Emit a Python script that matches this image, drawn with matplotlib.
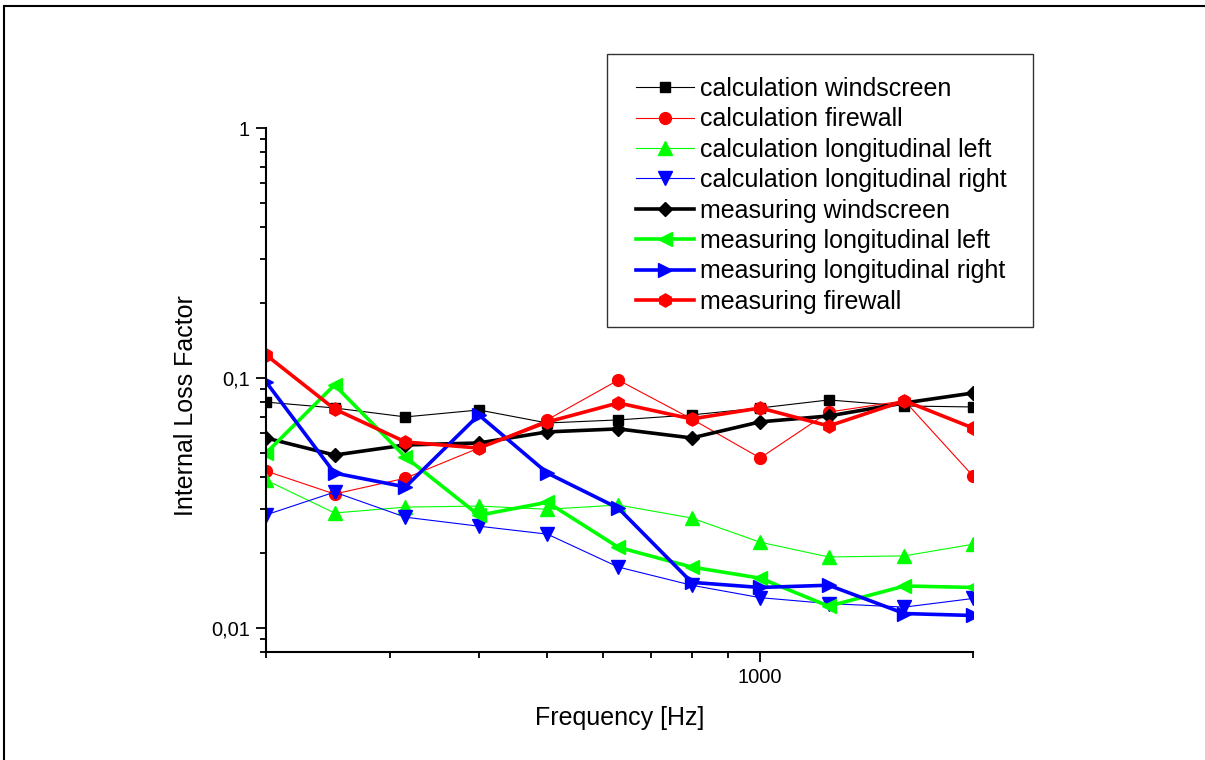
#!/usr/bin/env python3

import matplotlib
matplotlib.use('Agg')
from matplotlib import pyplot as plt
from matplotlib import ticker
from matplotlib.patches import Rectangle

plt.rcParams['font.family'] = ['Liberation Sans', 'DejaVu Sans']

# third-octave band centres [Hz]
freq = [200, 250, 315, 400, 500, 630, 800, 1000, 1250, 1600, 2000]

# calculated loss factors
calc_windscreen = [0.080, 0.0758, 0.0698, 0.0744, 0.066, 0.0679, 0.0711, 0.0758, 0.0816, 0.0772, 0.0765]
calc_firewall = [0.0424, 0.0343, 0.0397, 0.0524, 0.068, 0.098, 0.0685, 0.0478, 0.073, 0.081, 0.0405]
calc_long_left = [0.039, 0.0288, 0.0304, 0.0307, 0.0298, 0.031, 0.0275, 0.022, 0.0192, 0.0194, 0.0216]
calc_long_right = [0.0283, 0.0349, 0.0277, 0.0255, 0.0237, 0.0175, 0.0148, 0.0132, 0.0125, 0.0121, 0.0131]

# measured loss factors
meas_windscreen = [0.0575, 0.0491, 0.0539, 0.0549, 0.0608, 0.0625, 0.0575, 0.0667, 0.0704, 0.0794, 0.087]
meas_long_left = [0.050, 0.0937, 0.0482, 0.0282, 0.0318, 0.021, 0.0175, 0.0158, 0.0122, 0.0147, 0.0145]
meas_long_right = [0.0964, 0.0416, 0.0366, 0.0711, 0.0416, 0.0301, 0.0152, 0.0145, 0.0148, 0.0114, 0.0112]
meas_firewall = [0.1236, 0.0751, 0.0554, 0.0524, 0.0666, 0.0794, 0.0685, 0.0758, 0.0642, 0.081, 0.063]

W, H = 1205, 760
fig = plt.figure(figsize=(W / 100, H / 100), dpi=100)
ax = fig.add_axes([266 / W, 1 - 652 / H, (973 - 266) / W, (652 - 128) / H])

thin = dict(linewidth=0.8)
thick = dict(linewidth=2.6)

ax.plot(freq, calc_windscreen, color='black', marker='s', markersize=7.5,
        label='calculation windscreen', **thin)
ax.plot(freq, calc_firewall, color='red', marker='o', markersize=8.5,
        label='calculation firewall', **thin)
ax.plot(freq, calc_long_left, color='#00ff00', marker='^', markersize=9.5,
        label='calculation longitudinal left', **thin)
ax.plot(freq, calc_long_right, color='blue', marker='v', markersize=9.5,
        label='calculation longitudinal right', **thin)
ax.plot(freq, meas_windscreen, color='black', marker='D', markersize=7.5,
        label='measuring windscreen', **thick)
ax.plot(freq, meas_long_left, color='#00ff00', marker='<', markersize=9.5,
        label='measuring longitudinal left', **thick)
ax.plot(freq, meas_long_right, color='blue', marker='>', markersize=9.5,
        label='measuring longitudinal right', **thick)
ax.plot(freq, meas_firewall, color='red', marker='h', markersize=9.5,
        label='measuring firewall', **thick)

ax.set_xscale('log')
ax.set_yscale('log')
ax.set_xlim(200, 2000)
ax.set_ylim(0.008, 1)

ax.xaxis.set_major_locator(ticker.FixedLocator([1000]))
ax.xaxis.set_major_formatter(ticker.FixedFormatter(['1000']))
ax.xaxis.set_minor_locator(ticker.LogLocator(base=10, subs=range(2, 10)))
ax.xaxis.set_minor_formatter(ticker.NullFormatter())

ax.yaxis.set_major_locator(ticker.FixedLocator([0.01, 0.1, 1]))
ax.yaxis.set_major_formatter(ticker.FixedFormatter(['0,01', '0,1', '1']))
ax.yaxis.set_minor_locator(ticker.LogLocator(base=10, subs=range(2, 10)))
ax.yaxis.set_minor_formatter(ticker.NullFormatter())

for side in ['top', 'right']:
    ax.spines[side].set_visible(False)
for side in ['left', 'bottom']:
    ax.spines[side].set_linewidth(1.5)

ax.tick_params(which='major', direction='out', length=7.5, width=1.3, labelsize=14.5, pad=4)
ax.tick_params(which='minor', direction='out', length=4.5, width=1.3)

ax.set_xlabel('Frequency [Hz]', fontsize=18, labelpad=14)
ax.set_ylabel('Internal Loss Factor', fontsize=18)
ax.yaxis.set_label_coords(-0.096, 0.471)

# legend entries without frame, box drawn separately
leg = ax.legend(loc='upper left', bbox_to_anchor=(636 / W, 1 - 77 / H),
                bbox_transform=fig.transFigure, fontsize=18, frameon=False,
                borderpad=0, labelspacing=0.256,
                handlelength=2.32, handletextpad=0.24, borderaxespad=0)
fig.patches.append(Rectangle((607 / W, 1 - 327 / H), (1033 - 607) / W, (327 - 54) / H,
                             transform=fig.transFigure, fill=False,
                             edgecolor='#333333', linewidth=1.0, zorder=5))

# outer frame of the figure
fig.patches.append(Rectangle((4 / W, -0.1), 1.2, 1 - 6 / H + 0.1,
                             transform=fig.transFigure, fill=False,
                             edgecolor='black', linewidth=1.5))

fig.savefig('out.png', dpi=100)
